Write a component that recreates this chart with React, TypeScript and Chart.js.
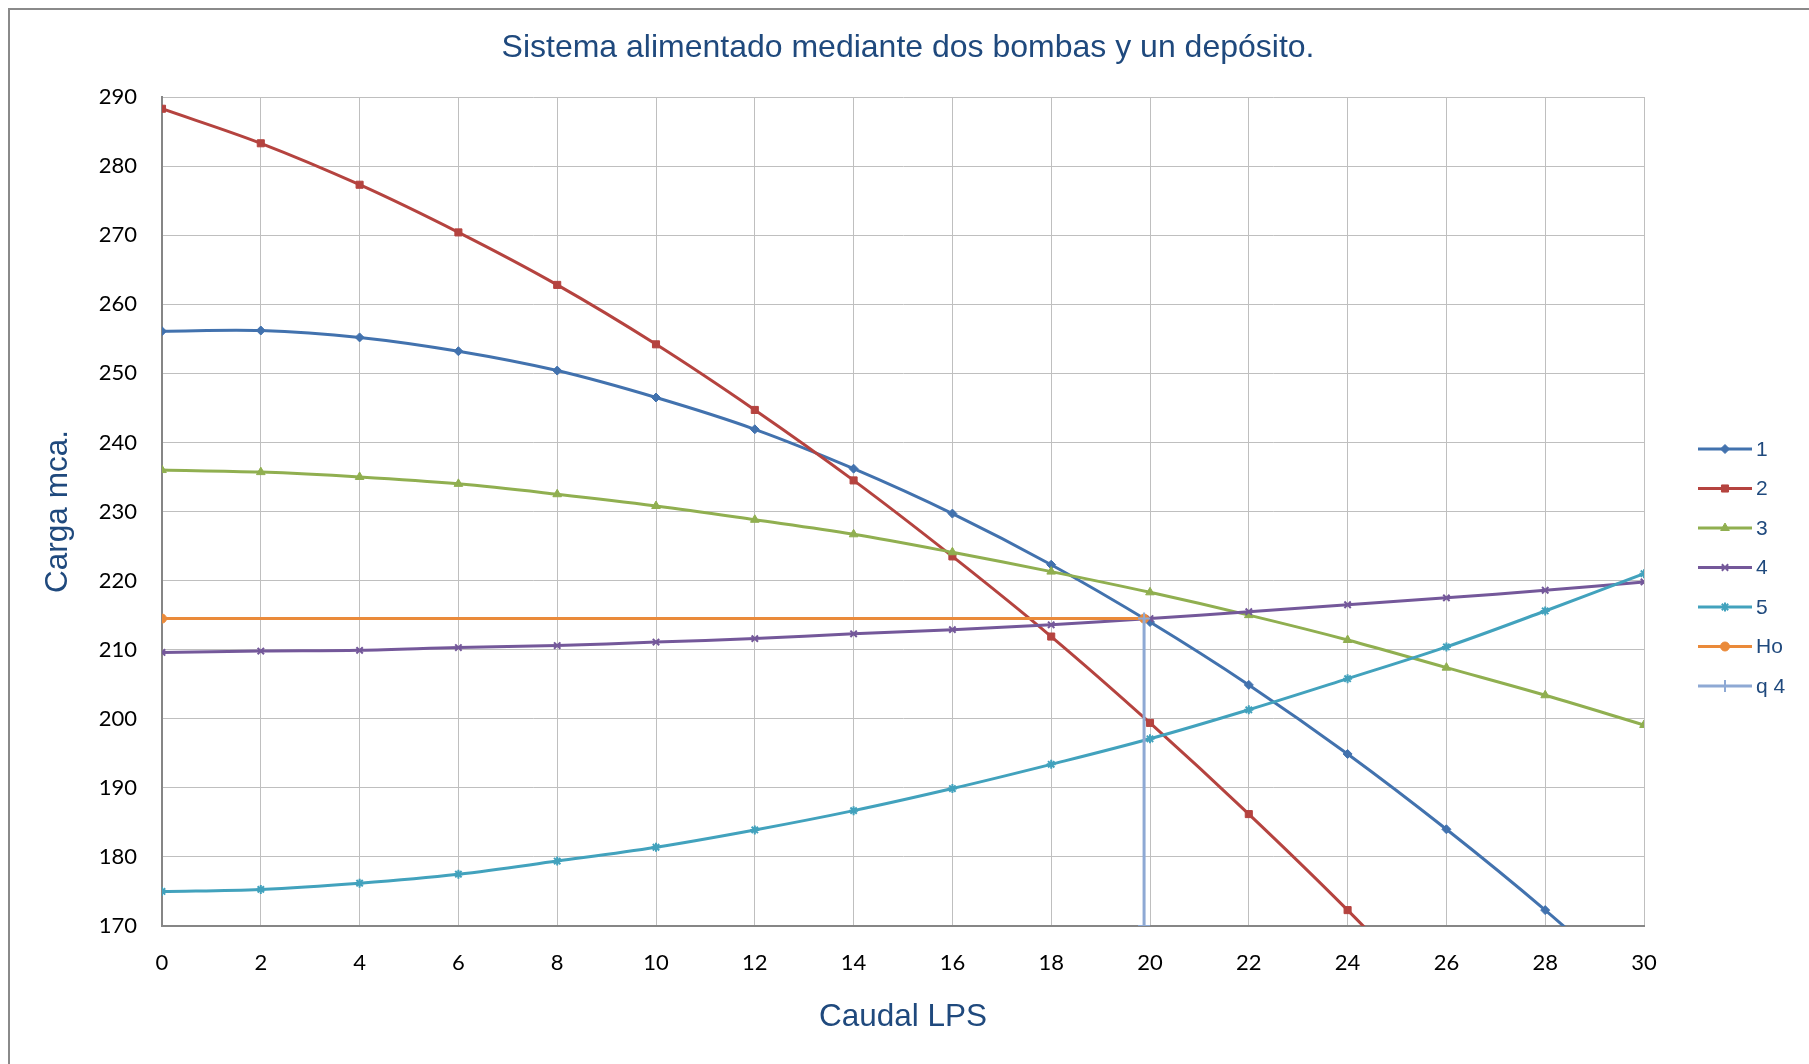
import React, { useEffect, useRef } from 'react';
import { Chart, registerables } from 'chart.js';
import { drawPoint } from 'chart.js/helpers';

Chart.register(...registerables);

// ---- Data ----
const chartTitle = 'Sistema alimentado mediante dos bombas y un depósito.';
const xTitle = 'Caudal LPS';
const yTitle = 'Carga mca.';

const caudal = [0, 2, 4, 6, 8, 10, 12, 14, 16, 18, 20, 22, 24, 26, 28, 30];
const serie1 = [256.1, 256.2, 255.2, 253.2, 250.4, 246.5, 241.9, 236.2, 229.7, 222.3, 214.0, 204.9, 194.9, 184.0, 172.3, 159.6];
const serie2 = [288.3, 283.3, 277.3, 270.4, 262.8, 254.2, 244.7, 234.5, 223.5, 211.9, 199.4, 186.2, 172.3, 157.5];
const serie3 = [236.0, 235.7, 235.0, 234.0, 232.5, 230.8, 228.8, 226.7, 224.1, 221.3, 218.3, 215.0, 211.4, 207.4, 203.4, 199.1];
const serie4 = [209.6, 209.8, 209.9, 210.3, 210.6, 211.1, 211.6, 212.3, 212.9, 213.6, 214.5, 215.5, 216.5, 217.5, 218.6, 219.8];
const serie5 = [175.0, 175.3, 176.2, 177.5, 179.4, 181.4, 183.9, 186.7, 189.9, 193.4, 197.1, 201.3, 205.8, 210.4, 215.6, 221.0];
const hoCaudal = [0, 19.88];
const hoCarga = [214.5, 214.5];
const q4Caudal = [19.88, 19.88];
const q4Carga = [214.5, 170];

const seriesLabels = ['1', '2', '3', '4', '5', 'Ho', 'q 4'];
const seriesColors = ['#4272AE', '#B5433F', '#90AF50', '#74589A', '#42A2BD', '#EA8A3A', '#8EA9D4'];
const seriesMarkers = ['rectRot', 'rect', 'triangle', 'crossRot', 'star', 'circle', 'cross'];
const markerRadius = [4.5, 5, 5, 4.5, 4.5, 4.5, 6];

const xTicksMin = 0, xTicksMax = 30, xStep = 2;
const yTicksMin = 170, yTicksMax = 290, yStep = 10;

const toPoints = (xs: number[], ys: number[]) => ys.map((y, i) => ({ x: xs[i], y }));

const W = 1799;
const H = 1054;
const AREA = { left: 152, right: 1634, top: 87, bottom: 916 };

const textBlue = '#1F497D';
const titleFont = "'Liberation Sans', Arial, sans-serif";
const tickFont = "Lato, 'Open Sans', sans-serif";

const titleDraw = {
  id: 'titleDraw',
  afterDraw(chart: any) {
    const ctx = chart.ctx as CanvasRenderingContext2D;
    ctx.save();
    ctx.fillStyle = textBlue;
    ctx.font = `32px ${titleFont}`;
    ctx.textAlign = 'center';
    ctx.textBaseline = 'middle';
    ctx.fillText(chartTitle, 898, 38);
    ctx.restore();
  },
};

const sideLegend = {
  id: 'sideLegend',
  afterDraw(chart: any) {
    const ctx = chart.ctx as CanvasRenderingContext2D;
    ctx.save();
    chart.data.datasets.forEach((ds: any, i: number) => {
      const y = 439 + i * 39.5;
      ctx.strokeStyle = ds.borderColor;
      ctx.lineWidth = 3;
      ctx.lineCap = 'butt';
      ctx.beginPath();
      ctx.moveTo(1688, y);
      ctx.lineTo(1742, y);
      ctx.stroke();
      ctx.fillStyle = ds.borderColor;
      ctx.strokeStyle = ds.borderColor;
      ctx.lineWidth = ds.pointBorderWidth || 1;
      drawPoint(ctx, { pointStyle: ds.pointStyle, radius: ds.pointRadius, borderWidth: ds.pointBorderWidth || 1, rotation: 0 } as any, 1715, y);
      ctx.fillStyle = textBlue;
      ctx.font = `21px ${titleFont}`;
      ctx.textAlign = 'left';
      ctx.textBaseline = 'middle';
      ctx.fillText(ds.label, 1746, y + 1);
    });
    ctx.restore();
  },
};

export default function App() {
  const ref = useRef<HTMLCanvasElement | null>(null);

  useEffect(() => {
    if (!ref.current) return;
    const dataSets = [
      toPoints(caudal, serie1),
      toPoints(caudal, serie2),
      toPoints(caudal, serie3),
      toPoints(caudal, serie4),
      toPoints(caudal, serie5),
      toPoints(hoCaudal, hoCarga),
      toPoints(q4Caudal, q4Carga),
    ];
    const chart = new Chart(ref.current, {
      type: 'line',
      data: {
        datasets: dataSets.map((d, i) => ({
          label: seriesLabels[i],
          data: d,
          borderColor: seriesColors[i],
          backgroundColor: seriesColors[i],
          pointBackgroundColor: seriesColors[i],
          pointBorderColor: seriesColors[i],
          pointStyle: seriesMarkers[i] as any,
          pointRadius: markerRadius[i],
          pointBorderWidth: i === 3 || i === 4 || i === 6 ? 2 : 1,
          borderWidth: 3,
          tension: i < 5 ? 0.35 : 0,
          fill: false,
          order: 10 - i,
        })),
      },
      options: {
        responsive: false,
        animation: false,
        layout: { padding: { left: 0, right: W - AREA.right, top: AREA.top, bottom: 0 } },
        plugins: {
          legend: { display: false },
          tooltip: { enabled: false },
          title: { display: false },
        },
        scales: {
          x: {
            type: 'linear',
            min: xTicksMin,
            max: xTicksMax,
            afterFit: (s: any) => { s.height = H - AREA.bottom; },
            ticks: {
              stepSize: xStep,
              color: '#000000',
              font: { family: tickFont, size: 22 },
              padding: 24,
              maxRotation: 0,
            },
            grid: { color: '#BFBFBF', lineWidth: 1, drawTicks: false },
            border: { display: true, color: '#868686', width: 2 },
            title: {
              display: true,
              text: xTitle,
              color: textBlue,
              font: { family: titleFont, size: 31.5, weight: 'normal' },
              padding: { top: 0, bottom: H - 1007 - 18.9 },
            },
          },
          y: {
            type: 'linear',
            min: yTicksMin,
            max: yTicksMax,
            afterFit: (s: any) => { s.width = AREA.left; },
            ticks: {
              stepSize: yStep,
              color: '#000000',
              font: { family: tickFont, size: 22 },
              padding: 25,
            },
            grid: { color: '#BFBFBF', lineWidth: 1, drawTicks: false },
            border: { display: true, color: '#868686', width: 2 },
            title: {
              display: true,
              text: yTitle,
              color: textBlue,
              font: { family: titleFont, size: 31.5, weight: 'normal' },
              padding: { top: 29.1, bottom: 0 },
            },
          },
        },
      },
      plugins: [titleDraw, sideLegend],
    } as any);
    return () => chart.destroy();
  }, []);

  return (
    <div
      style={{
        position: 'fixed',
        top: 8,
        left: 8,
        width: W,
        height: H,
        borderTop: '2px solid #8a8a8a',
        borderLeft: '2px solid #8a8a8a',
        overflow: 'hidden',
        background: '#ffffff',
      }}
    >
      <canvas ref={ref} width={W} height={H} style={{ display: 'block', width: W, height: H }} />
    </div>
  );
}
